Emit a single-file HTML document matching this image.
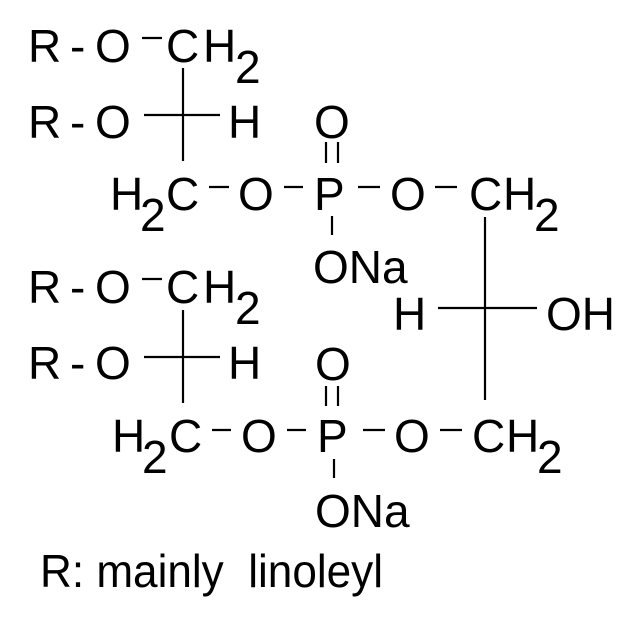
<!DOCTYPE html>
<html><head><style>body{margin:0;background:#fff}svg{display:block}text{font-family:"Liberation Sans",Arial,sans-serif;font-size:46px;fill:#000}</style></head>
<body>
<svg width="640" height="626" viewBox="0 0 640 626" xmlns="http://www.w3.org/2000/svg">
<g stroke="#000" stroke-width="2.2" fill="none">
<line x1="142" y1="38" x2="162" y2="38"/>
<line x1="183" y1="68" x2="183" y2="161"/>
<line x1="144" y1="115" x2="220" y2="115"/>
<line x1="209" y1="187" x2="229" y2="187"/>
<line x1="284" y1="187" x2="303" y2="187"/>
<line x1="358" y1="187" x2="380" y2="187"/>
<line x1="435" y1="187" x2="457" y2="187"/>
<line x1="332" y1="216" x2="332" y2="235"/>
<line x1="326" y1="142" x2="326" y2="163"/>
<line x1="338" y1="142" x2="338" y2="163"/>
<line x1="485" y1="217" x2="485" y2="400"/>
<line x1="438" y1="308" x2="537" y2="308"/>
<line x1="142" y1="279" x2="162" y2="279"/>
<line x1="183" y1="310" x2="183" y2="403"/>
<line x1="144" y1="357" x2="220" y2="357"/>
<line x1="212" y1="430" x2="231" y2="430"/>
<line x1="287" y1="430" x2="306" y2="430"/>
<line x1="363" y1="430" x2="385" y2="430"/>
<line x1="440" y1="430" x2="462" y2="430"/>
<line x1="334" y1="459" x2="334" y2="478"/>
<line x1="326" y1="386" x2="326" y2="406"/>
<line x1="338" y1="386" x2="338" y2="406"/>
</g>
<text x="28" y="62">R</text><text x="70" y="62">-</text><text x="95" y="62">O</text>
<text x="166" y="62">C</text><text x="203" y="62">H</text><text x="235" y="83">2</text>
<text x="28" y="138">R</text><text x="70" y="138">-</text><text x="95" y="138">O</text>
<text x="228" y="138">H</text>
<text x="110" y="210">H</text><text x="140" y="231">2</text><text x="166" y="210">C</text>
<text x="238" y="210">O</text>
<text x="314" y="210">P</text>
<text x="314" y="138">O</text>
<text x="390" y="210">O</text>
<text x="469" y="210">C</text><text x="503" y="210">H</text><text x="534" y="231">2</text>
<text x="313" y="283">ONa</text>
<text x="393" y="330">H</text><text x="546" y="330">OH</text>
<text x="28" y="303">R</text><text x="70" y="303">-</text><text x="95" y="303">O</text>
<text x="166" y="303">C</text><text x="203" y="303">H</text><text x="235" y="324">2</text>
<text x="28" y="379">R</text><text x="70" y="379">-</text><text x="95" y="379">O</text>
<text x="228" y="379">H</text>
<text x="112" y="452">H</text><text x="142" y="473">2</text><text x="169" y="452">C</text>
<text x="241" y="452">O</text>
<text x="317" y="452">P</text>
<text x="315" y="380">O</text>
<text x="394" y="452">O</text>
<text x="472" y="452">C</text><text x="506" y="452">H</text><text x="537" y="473">2</text>
<text x="315" y="527">ONa</text>
<text x="40" y="587" textLength="343" lengthAdjust="spacingAndGlyphs">R: mainly &#160;linoleyl</text>
</svg>
</body></html>
